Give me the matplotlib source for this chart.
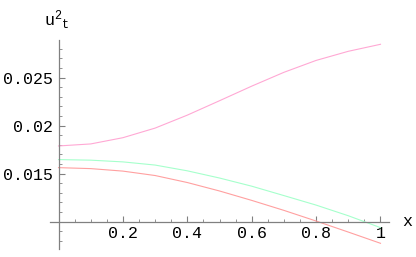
import numpy as np
import matplotlib
matplotlib.use("Agg")
import matplotlib.pyplot as plt
from matplotlib.ticker import FixedLocator, MultipleLocator

# values
x = [0.0, 0.1, 0.2, 0.3, 0.4, 0.5, 0.6, 0.7, 0.8, 0.9, 1.0]
u_pink = [0.01789, 0.01810, 0.01875, 0.01975, 0.02110, 0.02260,
          0.02412, 0.02556, 0.02680, 0.02775, 0.02848]
u_green = [0.01647, 0.01641, 0.01623, 0.01590, 0.01530, 0.01455,
           0.01370, 0.01272, 0.01173, 0.01062, 0.00938]
u_red = [0.01563, 0.01553, 0.01527, 0.01481, 0.01408, 0.01320,
         0.01222, 0.01118, 0.01007, 0.00892, 0.00775]

xticks = [0.2, 0.4, 0.6, 0.8, 1.0]
xtick_labels = ["0.2", "0.4", "0.6", "0.8", "1"]
yticks = [0.015, 0.02, 0.025]
ytick_labels = ["0.015", "0.02", "0.025"]

mono = "Liberation Mono"
plt.rcParams["font.family"] = mono
plt.rcParams["mathtext.fontset"] = "custom"
plt.rcParams["mathtext.rm"] = mono
plt.rcParams["mathtext.it"] = mono

fig = plt.figure(figsize=(4.16, 2.57), dpi=100)
ax = fig.add_axes([50 / 416, 8 / 257, 339 / 416, 209 / 257])

ax.plot(x, u_pink, color="#ffa8d4", lw=0.8)
ax.plot(x, u_green, color="#a6ffcc", lw=0.8)
ax.plot(x, u_red, color="#ffa0a0", lw=0.8)

ax.set_xlim(-0.0264, 1.0264)
ax.set_ylim(0.007156, 0.028927)

# axes crossing like Mathematica
axis_col = "#808080"
for s in ["top", "right"]:
    ax.spines[s].set_visible(False)
ax.spines["left"].set_position(("data", 0))
ax.spines["bottom"].set_position(("data", 0.01))
for s in ["left", "bottom"]:
    ax.spines[s].set_color(axis_col)
    ax.spines[s].set_linewidth(0.9)

ax.xaxis.set_major_locator(FixedLocator(xticks))
ax.set_xticklabels(xtick_labels)
ax.xaxis.set_minor_locator(MultipleLocator(0.05))
ax.yaxis.set_major_locator(FixedLocator(yticks))
ax.set_yticklabels(ytick_labels)
ax.yaxis.set_minor_locator(MultipleLocator(0.001))

ax.tick_params(which="both", direction="in", color=axis_col, labelsize=12,
               labelcolor="black")
ax.tick_params(which="major", length=4, width=0.8)
ax.tick_params(which="minor", length=2, width=0.6)
ax.tick_params(axis="x", pad=3)
ax.tick_params(axis="y", pad=4)

fig.text(407 / 416, 1 - 222 / 257, "x", fontsize=12, ha="center", va="center")
fig.text(57 / 416, 1 - 20 / 257, r"$\mathrm{u^2{}_t}$", fontsize=12,
         ha="center", va="center")

fig.savefig("out.png", dpi=100)
